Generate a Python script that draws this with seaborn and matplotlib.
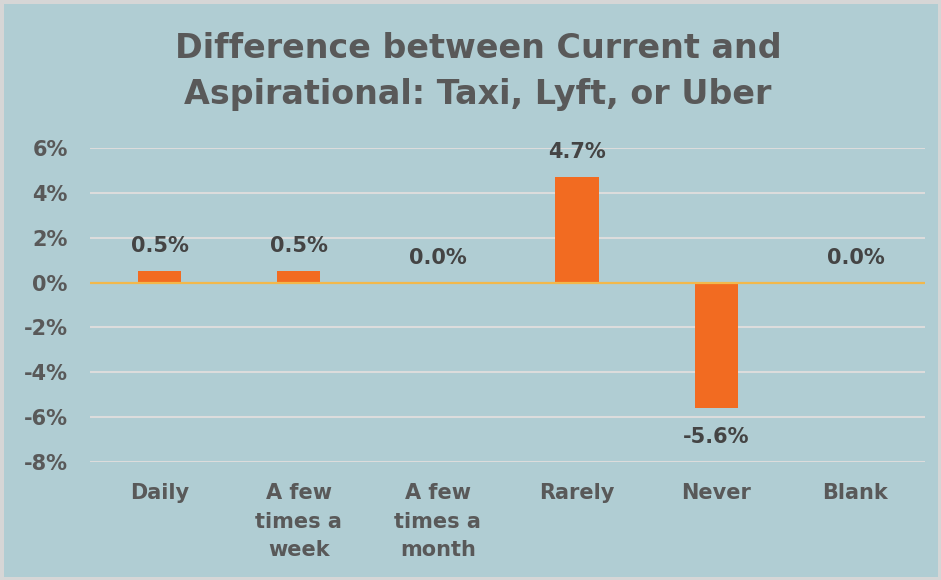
import pandas as pd
import seaborn as sns
import matplotlib.pyplot as plt

categories = ["Daily", "A few\ntimes a\nweek", "A few\ntimes a\nmonth", "Rarely", "Never", "Blank"]
differences = [0.5, 0.5, 0.0, 4.7, -5.6, 0.0]
y_ticks = [-8, -6, -4, -2, 0, 2, 4, 6]

df = pd.DataFrame({"frequency": categories, "difference": differences})

BG = "#b0cdd3"
BAR = "#f26b21"
TEXT = "#595959"

sns.set_style("white")
plt.rcParams["font.family"] = ["DejaVu Sans"]

fig = plt.figure(figsize=(9.41, 5.80), dpi=100)
fig.patch.set_facecolor(BG)
fig.patch.set_edgecolor("#d6d6d6")
fig.patch.set_linewidth(5)
ax = fig.add_axes([0.0956, 0.2034, 0.8874, 0.5414])
ax.set_facecolor(BG)

sns.barplot(data=df, x="frequency", y="difference", color=BAR, width=0.31,
            saturation=1, edgecolor="none", linewidth=0, ax=ax, zorder=3)

ax.set_ylim(-8, 6)
ax.set_xlim(-0.5, len(categories) - 0.5)
ax.set_yticks(y_ticks)
ax.set_yticklabels([f"{t}%" for t in y_ticks])
for t in y_ticks:
    if t != 0:
        ax.axhline(t, color="#dcdcdc", lw=1.5, zorder=1)
ax.axhline(0, color="#f2b84b", lw=1.6, zorder=4)

for s in ax.spines.values():
    s.set_visible(False)
ax.tick_params(axis="both", length=0, labelsize=15, labelcolor=TEXT)
ax.tick_params(axis="y", pad=16)
ax.tick_params(axis="x", pad=15)
for lbl in ax.get_xticklabels() + ax.get_yticklabels():
    lbl.set_fontweight("bold")
for lbl in ax.get_xticklabels():
    lbl.set_linespacing(1.55)
ax.set_xlabel("")
ax.set_ylabel("")

# value labels
for bar, v in zip(ax.patches, differences):
    x_val = bar.get_x() + bar.get_width() / 2
    off = 18 if v >= 0 else -21
    ax.annotate(f"{v:.1f}%", xy=(x_val, v), xytext=(0, off), textcoords="offset points",
                ha="center", va="center", fontsize=15, fontweight="bold", color="#444444")

fig.text(0.508, 0.876, "Difference between Current and\nAspirational: Taxi, Lyft, or Uber",
         ha="center", va="center", fontsize=24, fontweight="bold", color=TEXT,
         linespacing=1.5)

fig.savefig("out.png", dpi=100, facecolor=fig.get_facecolor(), edgecolor=fig.get_edgecolor())
